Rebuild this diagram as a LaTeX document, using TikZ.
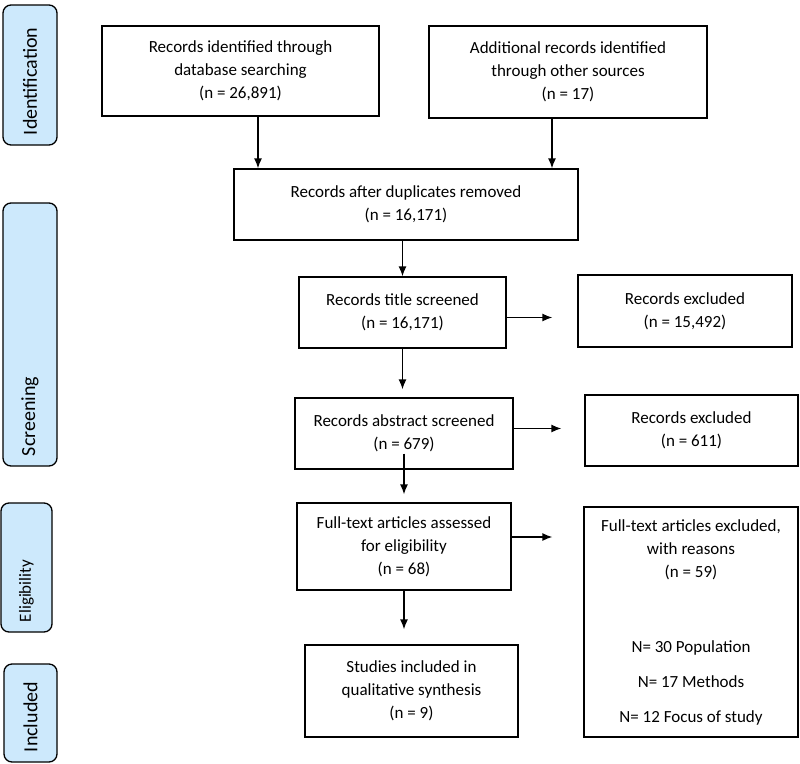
\documentclass[tikz,border=0pt]{standalone}
\usepackage{fontspec}
\setmainfont{Carlito}
\usepackage{tikz}
\usetikzlibrary{positioning,arrows.meta}
\definecolor{phaseblue}{RGB}{205,233,252}

\begin{document}
\begin{tikzpicture}[x=1pt,y=-1pt,>={Latex[length=10pt,width=8pt]},
    box/.style={draw,line width=1.3pt,align=center,inner sep=0pt,font=\fontsize{17}{23}\selectfont},
    phase/.style={draw,line width=1.3pt,fill=phaseblue,rounded corners=8pt,rotate=90,
      align=left,inner xsep=10pt,inner ysep=0pt,font=\fontsize{20}{24}\selectfont},
    flow/.style={->,line width=1.3pt}]
        \useasboundingbox (0,0) rectangle (800,763);
        % phases on the left
        \node [phase,text width=120pt,minimum height=54pt] (ident) at (30,75) {Identification};
        \node [phase,text width=243pt,minimum height=54pt] (screen) at (30,334.5) {Screening};
        \node [phase,text width=109pt,minimum height=51pt,font=\fontsize{17}{20}\selectfont] (elig) at (26.5,567.5) {Eligibility};
        \node [phase,text width=78pt,minimum height=53pt] (incl) at (30.5,713) {Included};
        % main column
        \node [box,minimum width=277pt,minimum height=90pt] (db) at (240.5,71) {Records identified through\\database searching\\(n = 26,891)};
        \node [box,minimum width=278pt,minimum height=92pt] (other) at (568,72) {Additional records identified\\through other sources\\(n = 17)};
        \node [box,minimum width=344pt,minimum height=71pt] (dup) at (406,204.5) {Records after duplicates removed\\(n = 16,171)};
        \node [box,minimum width=207pt,minimum height=71pt] (title) at (402.5,312.5) {Records title screened\\(n = 16,171)};
        \node [box,minimum width=214pt,minimum height=72pt] (exctitle) at (685,311) {Records excluded\\(n = 15,492)};
        \node [box,minimum width=218pt,minimum height=71pt] (abs) at (404,433.5) {Records abstract screened\\(n = 679)};
        \node [box,minimum width=213pt,minimum height=71pt] (excabs) at (691.5,430.5) {Records excluded\\(n = 611)};
        \node [box,minimum width=214pt,minimum height=87pt] (full) at (404,546.5) {Full-text articles assessed\\for eligibility\\(n = 68)};
        \node [box,minimum width=214pt,minimum height=230pt] (excfull) at (691,622) {Full-text articles excluded,\\with reasons\\(n = 59)\\[52pt]N= 30 Population\\[12pt]N= 17 Methods\\[12pt]N= 12 Focus of study};
        \node [box,minimum width=213pt,minimum height=92pt] (incl2) at (411.5,691) {Studies included in\\qualitative synthesis\\(n = 9)};
        % arrows
        \draw [flow] ([xshift=17.5pt]db.south) -- ([xshift=17.5pt]db.south |- dup.north);
        \draw [flow] ([xshift=-16pt]other.south) -- ([xshift=-16pt]other.south |- dup.north);
        \draw [flow] (dup.south -| title.north) -- (title.north);
        \draw [flow,shorten >=25pt] ([yshift=-5pt]title.east) -- ([yshift=-5pt]title.east -| exctitle.west);
        \draw [flow] (title.south) -- ([yshift=8pt]title.south |- abs.north);
        \draw [flow,shorten >=23pt] ([yshift=5pt]abs.east) -- ([yshift=5pt]abs.east -| excabs.west);
        \draw [flow,shorten >=8pt] ([yshift=16pt]abs.south) -- (full.north);
        \draw [flow,shorten >=31pt] ([yshift=9.5pt]full.east) -- ([yshift=9.5pt]full.east -| excfull.west);
        \draw [flow,shorten >=15pt] (full.south) -- (full.south |- incl2.north);
\end{tikzpicture}
\end{document}
